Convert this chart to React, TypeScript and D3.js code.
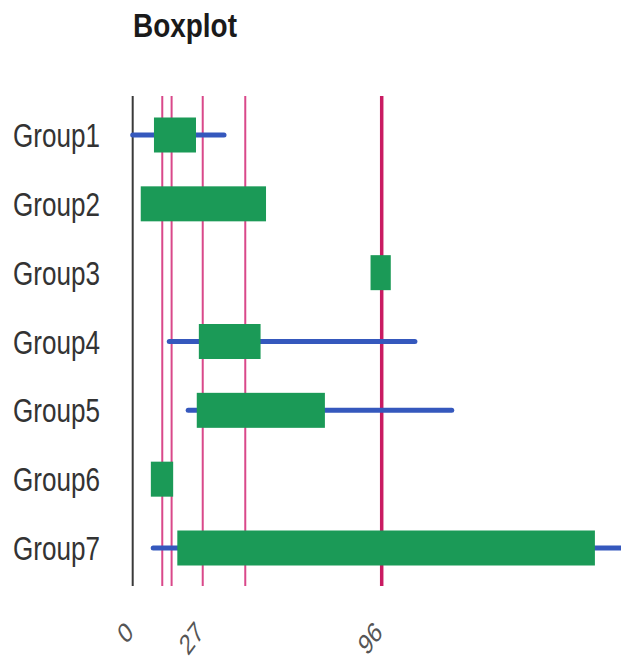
import React from "react";
import * as d3 from "d3";

const groups = ["Group1", "Group2", "Group3", "Group4", "Group5", "Group6", "Group7"];
const whiskerLow: (number | null)[] = [0, null, null, 14.1, 21.4, null, 7.9];
const boxLow = [8.2, 3.1, 91.7, 25.5, 24.7, 7.0, 17.2];
const boxHigh = [24.4, 51.4, 99.5, 49.3, 74.1, 15.6, 178.2];
const whiskerHigh: (number | null)[] = [35.2, null, null, 108.8, 123.0, null, 200];
const refLines = [11.4, 15.0, 27, 43.4, 96];
const highlightLine = 96;
const tickValues = [0, 27, 96];
const title = "Boxplot";

const W = 621;
const H = 663;

export default function App() {
  const x = d3.scaleLinear().domain([0, 96]).range([132.7, 381.7]);
  const y = d3.scalePoint<string>().domain(groups).range([135, 548]);
  const top = 96;
  const bottom = 586;
  const boxH = 35;

  return (
    <svg
      width={W}
      height={H}
      style={{ position: "absolute", left: 0, top: 0, overflow: "hidden", background: "#fff" }}
      fontFamily="'Liberation Sans', Arial, sans-serif"
    >
      <text x={133} y={37} fontSize={33} fontWeight="bold" fill="#1a1a1a" textLength={104} lengthAdjust="spacingAndGlyphs">
        {title}
      </text>

      {refLines.map((v) => (
        <line
          key={v}
          x1={x(v)}
          x2={x(v)}
          y1={top}
          y2={bottom}
          stroke={v === highlightLine ? "#c91b62" : "#d9488a"}
          strokeWidth={v === highlightLine ? 3.5 : 2}
        />
      ))}

      <line x1={x(0)} x2={x(0)} y1={top} y2={bottom} stroke="#3a3a3a" strokeWidth={2} />

      {groups.map((g, i) => {
        const cy = y(g) as number;
        const wl = whiskerLow[i];
        const wh = whiskerHigh[i];
        return (
          <g key={g}>
            {wl !== null && wh !== null && (
              <line
                x1={x(wl)}
                x2={x(wh)}
                y1={cy}
                y2={cy}
                stroke="#3558bd"
                strokeWidth={5}
                strokeLinecap="round"
              />
            )}
            <rect
              x={x(boxLow[i])}
              y={cy - boxH / 2}
              width={x(boxHigh[i]) - x(boxLow[i])}
              height={boxH}
              fill="#1b9a57"
            />
            <text
              x={100}
              y={cy + 12}
              textAnchor="end"
              fontSize={33}
              fill="#333"
              textLength={87}
              lengthAdjust="spacingAndGlyphs"
            >
              {g}
            </text>
          </g>
        );
      })}

      {tickValues.map((v) => (
        <text
          key={v}
          transform={`translate(${x(v) + 2},634) scale(0.85,1.15) rotate(-45)`}
          textAnchor="end"
          fontSize={25}
          fill="#555"
        >
          {v}
        </text>
      ))}
    </svg>
  );
}
